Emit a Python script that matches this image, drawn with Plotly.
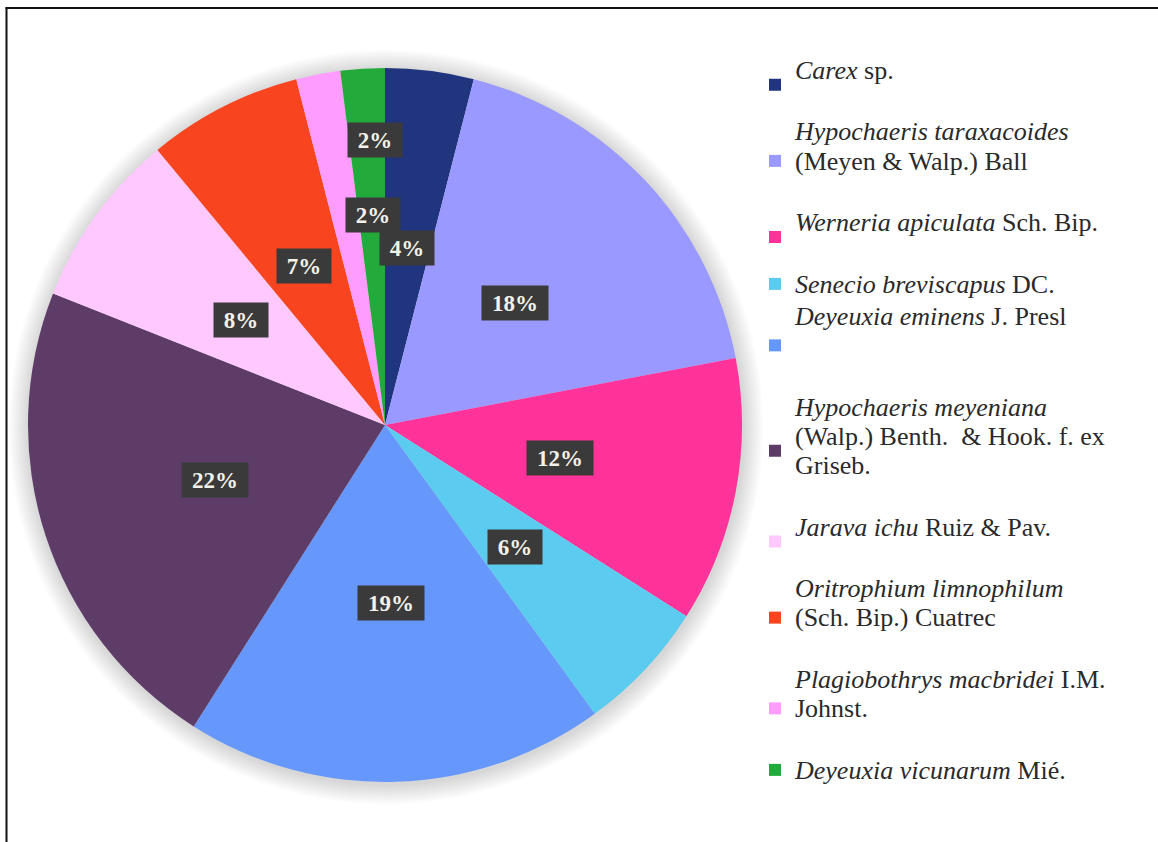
import math
import plotly.graph_objects as go

# Species composition (% of cover), clockwise from 12 o'clock
species = [
    "<i>Carex</i> sp.",
    "<i>Hypochaeris taraxacoides</i><br>(Meyen &amp; Walp.) Ball",
    "<i>Werneria apiculata</i> Sch. Bip.",
    "<i>Senecio breviscapus</i> DC.",
    "<i>Deyeuxia eminens</i> J. Presl",
    "<i>Hypochaeris meyeniana</i><br>(Walp.) Benth.  &amp; Hook. f. ex<br>Griseb.",
    "<i>Jarava ichu</i> Ruiz &amp; Pav.",
    "<i>Oritrophium limnophilum</i><br>(Sch. Bip.) Cuatrec",
    "<i>Plagiobothrys macbridei</i> I.M.<br>Johnst.",
    "<i>Deyeuxia vicunarum</i> Mié.",
]
percent = [4, 18, 12, 6, 19, 22, 8, 7, 2, 2]
colors = ["#21357f", "#9999ff", "#ff3399", "#5ccbf0", "#6698fb",
          "#5e3c68", "#ffc8ff", "#f94420", "#ff9cff", "#22aa3a"]

# Legend spacing: blank lines appended after each entry
legend_blank_lines = [1, 1, 1, 0, 2, 1, 1, 1, 1, 0]
# Label placement: radial fraction for each slice label, plus horizontal nudge
label_radius = [0.5, 0.5, 0.5, 0.5, 0.5, 0.5, 0.5, 0.5, 0.6, 0.8]
label_xshift = [0, 0, 0, 0, 0, 0, 0, 0, 28, 8]

W, H = 1158, 842
CX, CY, R = 385, 425, 357  # pie centre and radius in pixels
LEGEND_LINE_SIZE = 22.5    # sets legend line pitch
LEGEND_TEXT_SIZE = 26      # actual glyph size of legend entries
LABEL_SIZE = 23

legend_text = [
    f'<span style="font-size:{LEGEND_TEXT_SIZE}px">'
    + s.replace("<br>", f'</span><br><span style="font-size:{LEGEND_TEXT_SIZE}px">')
    + "</span>" + "<br>\u00a0" * n
    for s, n in zip(species, legend_blank_lines)
]

fig = go.Figure()
fig.add_trace(go.Pie(
    labels=legend_text,
    values=percent,
    marker=dict(colors=colors, line=dict(width=0)),
    sort=False,
    direction="clockwise",
    rotation=0,
    textinfo="none",
    hoverinfo="label+percent",
    domain=dict(x=[(CX - R) / W, (CX + R) / W],
                y=[1 - (CY + R) / H, 1 - (CY - R) / H]),
))

# Soft shadow halo under the pie
shapes = []
for k in range(10):
    rr = R + 2 + 2 * k
    ox, oy = 1, 2
    shapes.append(dict(
        type="circle", xref="paper", yref="paper", layer="below",
        x0=(CX + ox - rr) / W, x1=(CX + ox + rr) / W,
        y0=1 - (CY + oy + rr) / H, y1=1 - (CY + oy - rr) / H,
        fillcolor="rgba(0,0,0,0.014)", line=dict(width=0),
    ))

# Frame lines (left and top)
shapes.append(dict(type="line", xref="paper", yref="paper",
                   x0=6.5 / W, x1=6.5 / W, y0=0, y1=1 - 7.5 / H,
                   line=dict(color="#111", width=2)))
shapes.append(dict(type="line", xref="paper", yref="paper",
                   x0=5.5 / W, x1=1, y0=1 - 8 / H, y1=1 - 8 / H,
                   line=dict(color="#111", width=2)))

# Percentage labels in dark boxes at slice mid-angles
annotations = []
total = sum(percent)
cum = 0
for v, rf, xs in zip(percent, label_radius, label_xshift):
    theta = 2 * math.pi * (cum + v / 2) / total
    cum += v
    px = CX + rf * R * math.sin(theta)
    py = CY - rf * R * math.cos(theta)
    txt = f"{round(100 * v / total)}%"
    annotations.append(dict(
        x=px / W, y=1 - py / H, xref="paper", yref="paper",
        text=f"<b>{txt}</b>", showarrow=False, xshift=xs,
        font=dict(family="Liberation Serif", size=LABEL_SIZE, color="#f4f1e8"),
        bgcolor="#3a3a3a", borderpad=3,
        width=int(0.5 * LABEL_SIZE * (len(txt) - 1) + LABEL_SIZE + 14), height=28,
        xanchor="center", yanchor="middle",
    ))

fig.update_layout(
    width=W, height=H,
    margin=dict(l=0, r=0, t=0, b=0),
    paper_bgcolor="white",
    plot_bgcolor="white",
    shapes=shapes,
    annotations=annotations,
    legend=dict(
        x=755 / W, y=1 - 49 / H, xanchor="left", yanchor="top",
        font=dict(family="Liberation Serif", size=LEGEND_LINE_SIZE, color="#2a2a2a"),
        valign="middle",
        bgcolor="rgba(0,0,0,0)",
        traceorder="normal",
    ),
    showlegend=True,
)

fig.write_html("out.html")
